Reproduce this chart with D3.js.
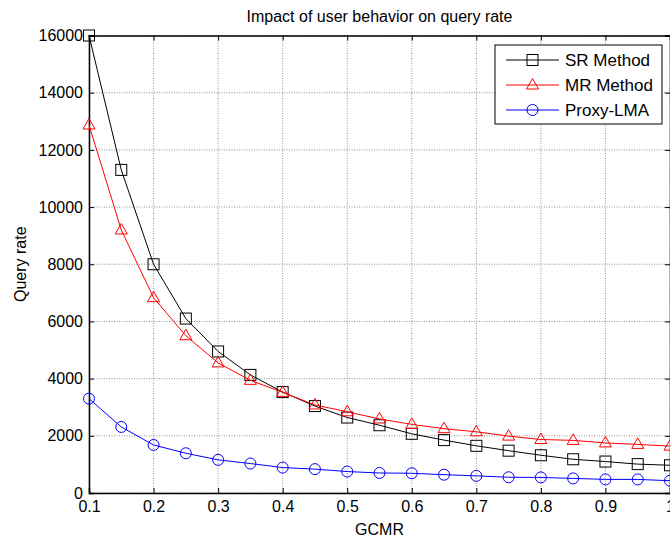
<!DOCTYPE html>
<html>
<head>
<meta charset="utf-8">
<title>Impact of user behavior on query rate</title>
<script src="https://d3js.org/d3.v7.min.js"></script>
<style>
body { margin: 0; padding: 0; background: white; }
svg { font-family: "Liberation Sans", Arial, Helvetica, sans-serif; }
</style>
</head>
<body>
<svg width="670" height="540"></svg>
<script>
// data
var gcmr = [0.1, 0.15, 0.2, 0.25, 0.3, 0.35, 0.4, 0.45, 0.5, 0.55, 0.6, 0.65, 0.7, 0.75, 0.8, 0.85, 0.9, 0.95, 1.0];
var srMethod = [16000, 11300, 8000, 6100, 4950, 4130, 3530, 3040, 2640, 2370, 2070, 1850, 1650, 1480, 1320, 1180, 1100, 1010, 970];
var mrMethod = [12870, 9200, 6830, 5500, 4550, 3940, 3520, 3080, 2840, 2590, 2400, 2250, 2140, 1990, 1870, 1840, 1750, 1700, 1640];
var proxyLMA = [3300, 2310, 1680, 1390, 1160, 1030, 890, 835, 750, 700, 690, 640, 600, 550, 545, 510, 475, 475, 430];
var seriesNames = ["SR Method", "MR Method", "Proxy-LMA"];
var xTicks = [0.1, 0.2, 0.3, 0.4, 0.5, 0.6, 0.7, 0.8, 0.9, 1];
var yTicks = [0, 2000, 4000, 6000, 8000, 10000, 12000, 14000, 16000];

var margin = {top: 35.5, right: 0, bottom: 47, left: 89};
var width = 670 - margin.left - margin.right,
    height = 540 - margin.top - margin.bottom;

var svg = d3.select("svg");
var g = svg.append("g").attr("transform", "translate(" + margin.left + "," + margin.top + ")");

var x = d3.scaleLinear().domain([0.1, 1]).range([0, width]);
var y = d3.scaleLinear().domain([0, 16000]).range([height, 0]);

// grid
g.append("g").selectAll("line").data(xTicks).enter().append("line")
  .attr("x1", d => x(d)).attr("x2", d => x(d))
  .attr("y1", 0).attr("y2", height)
  .attr("stroke", "#777").attr("stroke-width", 0.8).attr("stroke-dasharray", "1,1.5");
g.append("g").selectAll("line").data(yTicks).enter().append("line")
  .attr("x1", 0).attr("x2", width)
  .attr("y1", d => y(d)).attr("y2", d => y(d))
  .attr("stroke", "#777").attr("stroke-width", 0.8).attr("stroke-dasharray", "1,1.5");

// axes (ticks inside like matlab)
var xAxis = d3.axisBottom(x).tickValues(xTicks).tickSize(-5).tickPadding(8)
  .tickFormat(d => d === 1 ? "1" : d3.format(".1f")(d));
var yAxis = d3.axisLeft(y).tickValues(yTicks).tickSize(-5).tickPadding(6).tickFormat(d3.format("d"));

var gx = g.append("g").attr("transform", "translate(0," + height + ")").call(xAxis);
var gy = g.append("g").call(yAxis);
g.append("g").call(d3.axisTop(x).tickValues(xTicks).tickSize(-5).tickFormat(""));
g.append("g").attr("transform", "translate(" + width + ",0)")
  .call(d3.axisRight(y).tickValues(yTicks).tickSize(-5).tickFormat(""));

g.selectAll(".domain").attr("stroke", "black").attr("stroke-width", 1.5);
g.selectAll(".tick line").attr("stroke", "black");
g.selectAll(".tick text").attr("font-size", "16px").attr("fill", "black");

// series
var colors = ["black", "red", "blue"];
var allSeries = [srMethod, mrMethod, proxyLMA];
var line = d3.line().x((d, i) => x(gcmr[i])).y(d => y(d));

function marker(sel, k, color) {
  if (k === 0) {
    sel.append("rect").attr("x", -5.5).attr("y", -5.5).attr("width", 11).attr("height", 11)
      .attr("fill", "none").attr("stroke", color);
  } else if (k === 1) {
    sel.append("path").attr("d", "M0,-6.5L6,4L-6,4Z").attr("fill", "none").attr("stroke", color);
  } else {
    sel.append("circle").attr("r", 5.5).attr("fill", "none").attr("stroke", color);
  }
}

allSeries.forEach(function(vals, k) {
  g.append("path").datum(vals).attr("d", line)
    .attr("fill", "none").attr("stroke", colors[k]).attr("stroke-width", 1);
  g.append("g").selectAll("g").data(vals).enter().append("g")
    .attr("transform", (d, i) => "translate(" + x(gcmr[i]) + "," + y(d) + ")")
    .each(function() { marker(d3.select(this), k, colors[k]); });
});

// legend
var lg = svg.append("g").attr("transform", "translate(495,45)");
lg.append("rect").attr("width", 167).attr("height", 79).attr("fill", "white").attr("stroke", "black");
seriesNames.forEach(function(name, k) {
  var row = lg.append("g").attr("transform", "translate(0," + (15 + k * 25) + ")");
  row.append("line").attr("x1", 11).attr("x2", 64).attr("stroke", colors[k]);
  marker(row.append("g").attr("transform", "translate(37.5,0)"), k, colors[k]);
  row.append("text").attr("x", 70).attr("dy", "0.36em").attr("font-size", "17px").text(name);
});

// labels
svg.append("text").attr("x", margin.left + width / 2).attr("y", 22)
  .attr("text-anchor", "middle").attr("font-size", "16px").text("Impact of user behavior on query rate");
svg.append("text").attr("x", margin.left + width / 2).attr("y", 535)
  .attr("text-anchor", "middle").attr("font-size", "16px").text("GCMR");
svg.append("text").attr("transform", "translate(26," + (margin.top + height / 2) + ") rotate(-90)")
  .attr("text-anchor", "middle").attr("font-size", "16px").text("Query rate");
</script>
</body>
</html>
